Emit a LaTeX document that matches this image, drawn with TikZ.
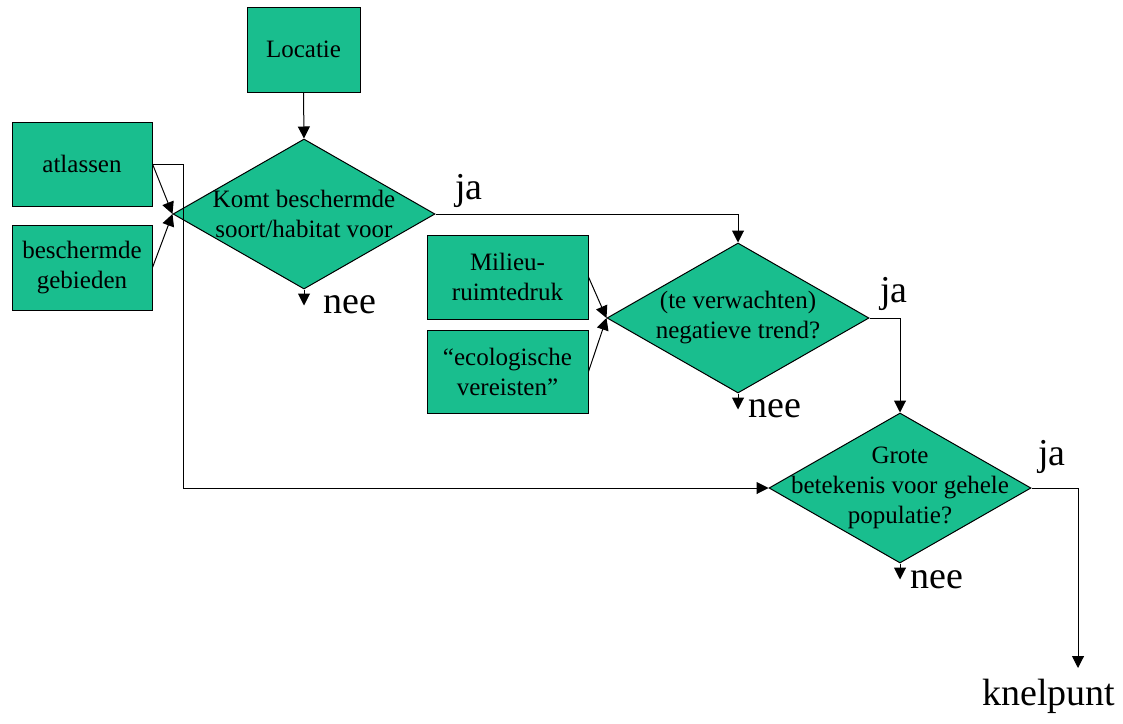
\documentclass[tikz,border=0pt]{standalone}
\usepackage{fontspec}
\setmainfont{Liberation Serif}
\usetikzlibrary{shapes.geometric,arrows.meta}
\definecolor{boxgreen}{RGB}{25,190,142}
\tikzset{
  box/.style={draw=black, line width=1pt, fill=boxgreen, inner sep=0pt,
    align=center, font=\fontsize{25}{30}\selectfont},
  decision/.style={diamond, draw=black, line width=1pt, fill=boxgreen,
    inner sep=0pt, minimum width=262pt, minimum height=150pt},
  qtext/.style={align=center, font=\fontsize{25}{30}\selectfont, inner sep=0pt},
  lbl/.style={anchor=base west, inner sep=0pt, font=\fontsize{38}{42}\selectfont},
  link/.style={line width=1pt, -{Triangle[length=12pt,width=12pt]}},
  plain/.style={line width=1pt}
}
\begin{document}
\begin{tikzpicture}[x=1pt,y=-1pt]
\useasboundingbox (0,0) rectangle (1123,723);

% input boxes
\node[box, minimum width=113pt, minimum height=85pt] (loc) at (303.5,49.5) {Locatie};
\node[box, minimum width=140pt, minimum height=84pt] (atl) at (82,164) {atlassen};
\node[box, minimum width=140pt, minimum height=85pt] (geb) at (82,267.5) {beschermde\\gebieden};
\node[box, minimum width=161pt, minimum height=84pt] (mil) at (507.5,277) {Milieu-\\ruimtedruk};
\node[box, minimum width=161pt, minimum height=83pt] (eco) at (507.5,371.5) {``ecologische\\vereisten''};

% decisions
\node[decision] (d1) at (304,214) {};
\node[qtext] at (d1.center) {Komt beschermde\\soort/habitat voor};
\node[decision] (d2) at (738,318) {};
\node[qtext] at (d2.center) {(te verwachten)\\negatieve trend?};
\node[decision] (d3) at (900,488) {};
\node[qtext] at (d3.center) {Grote\\betekenis voor gehele\\populatie?};

% outcomes
\coordinate (kend) at (1078,668);
\node[lbl] (knel) at (982,705) {knelpunt};
\node[lbl] (ja1) at (455,199) {ja};
\node[lbl] (ja2) at (880,302) {ja};
\node[lbl] (ja3) at (1038,465) {ja};
\node[lbl] (nee1) at (323,313) {nee};
\node[lbl] (nee2) at (748,417) {nee};
\node[lbl] (nee3) at (910,588) {nee};

% connectors
\draw[link] (loc.south) -- (d1.north);
\draw[link] (atl.east) -- (d1.west);
\draw[link] (geb.east) -- (d1.west);
\draw[link] (atl.east) -- ++(31,0) |- (d3.west);
\draw[link] (d1.east) -| (d2.north);
\draw[link] (mil.east) -- (d2.west);
\draw[link] (eco.east) -- (d2.west);
\draw[link] (d2.east) -| (d3.north);
\draw[link] (d3.east) -| (kend);
\draw[link] (d1.south) -- ++(0,16);
\draw[link] (d2.south) -- ++(0,16);
\draw[link] (d3.south) -- ++(0,16);
\end{tikzpicture}
\end{document}
